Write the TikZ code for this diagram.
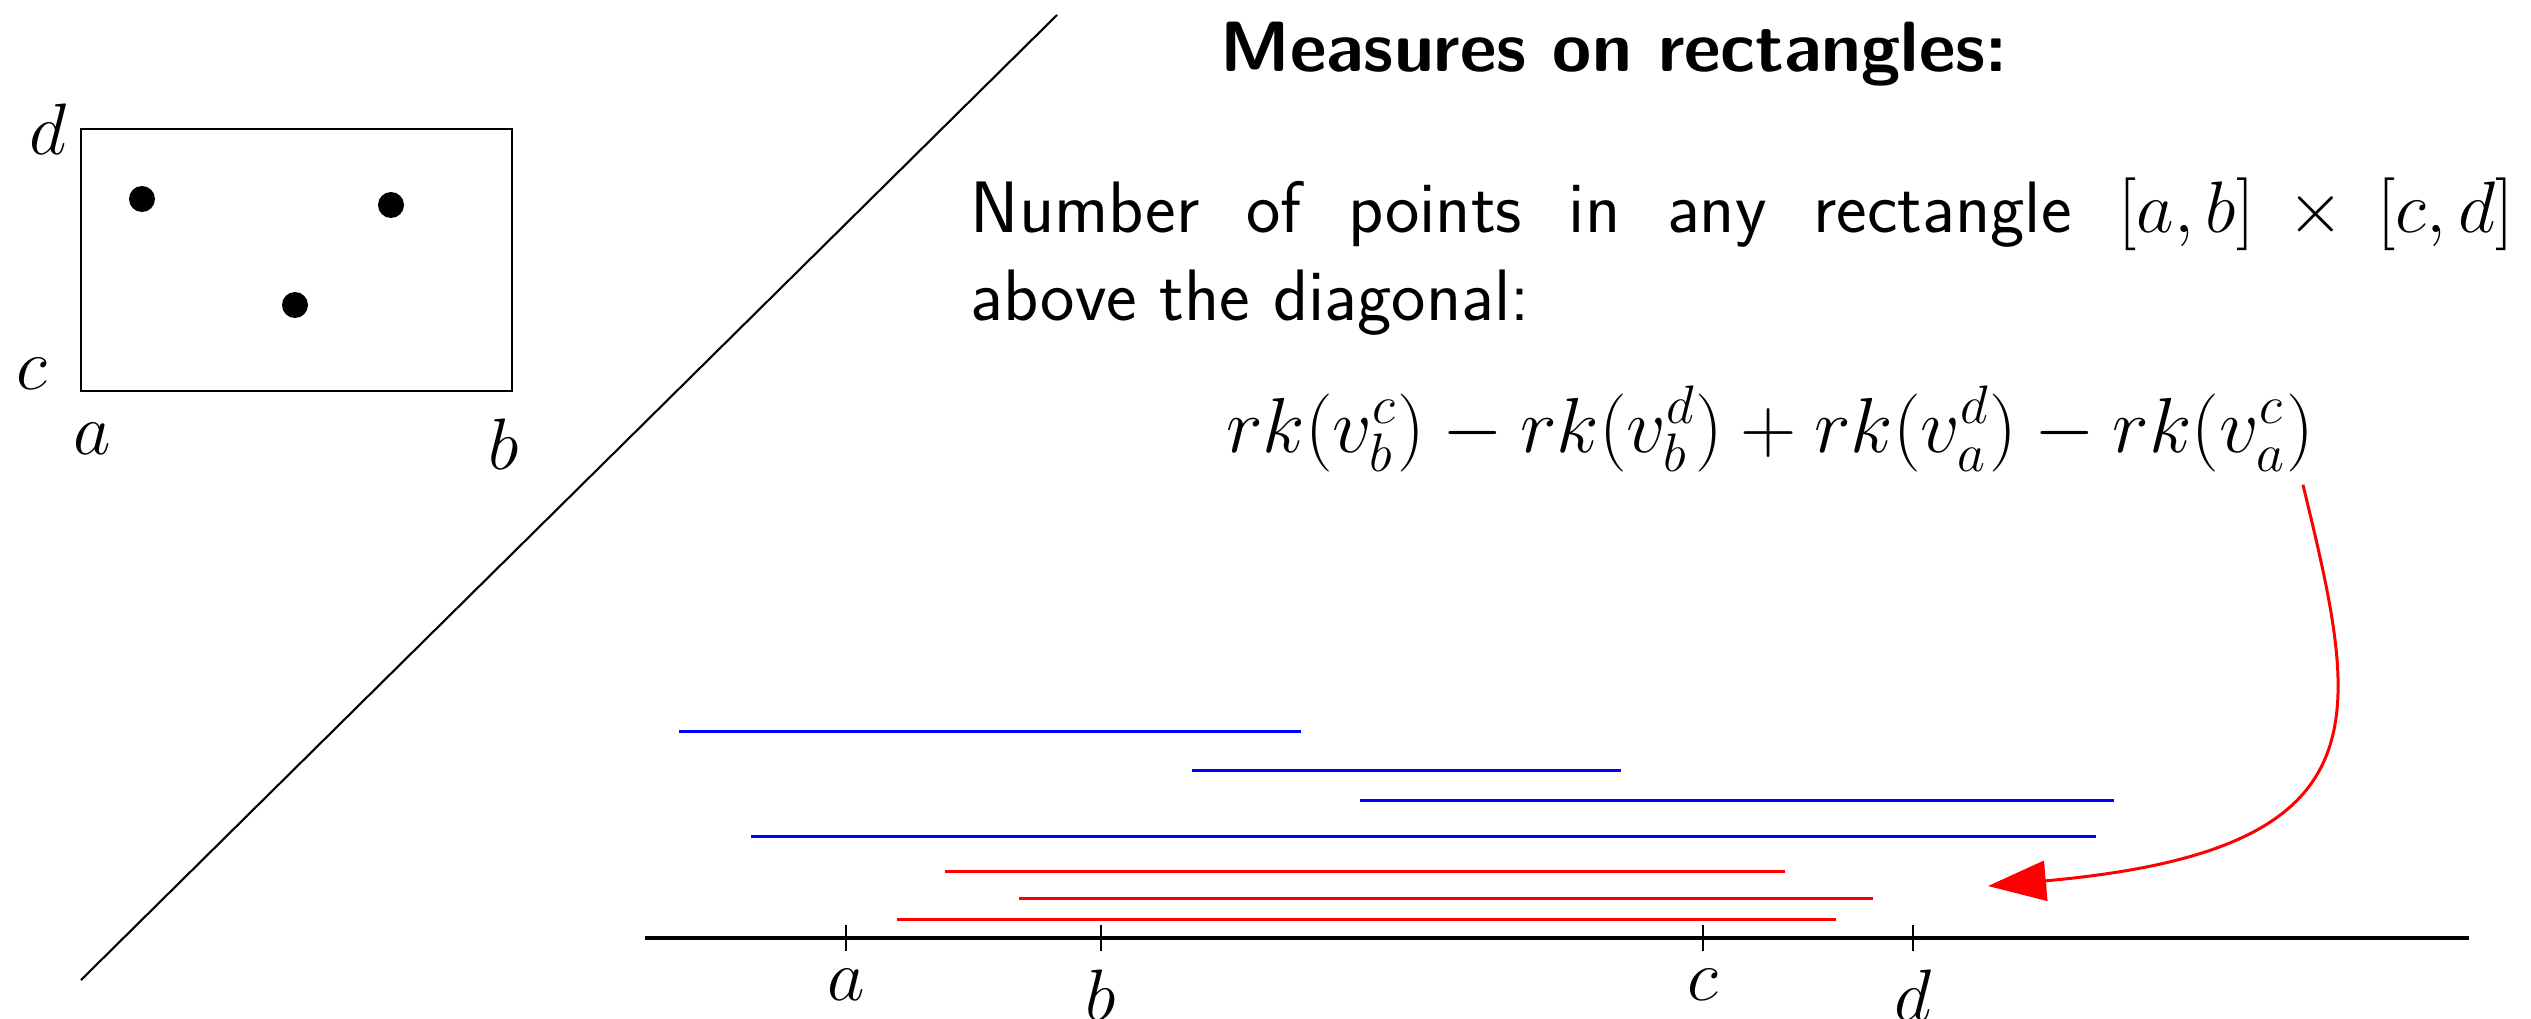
\documentclass[tikz,border=0pt]{standalone}
\usetikzlibrary{arrows.meta}
\begin{document}
\begin{tikzpicture}[font=\fontsize{20.74}{25}\selectfont,
  interval/.style={line width=0.85pt},
  tickmark/.style={line width=0.6pt}]
  \useasboundingbox (0,0) rectangle (25.31,10.18);
  % diagonal and a rectangle above it
  \draw[line width=0.6pt] (0.81,0.38) -- (10.57,10.03);
  \draw[line width=0.85pt] (0.81,6.27) rectangle (5.12,8.89);
  \foreach \x/\y in {1.42/8.19,3.91/8.13,2.95/7.13}
    \fill (\x,\y) circle (0.13);
  \node (rd) at (0.48,8.89) {$d$};
  \node (rc) at (0.32,6.44) {$c$};
  \node (ra) at (0.92,5.79) {$a$};
  \node (rb) at (5.04,5.74) {$b$};
  % text
  \node[anchor=base,font=\fontsize{20.25}{24}\selectfont\sffamily\bfseries] (title)
    at (16.14,9.46) {Measures on rectangles:};
  \node[anchor=base west,text width=15.43cm,align=justify,inner sep=0pt,
    font=\fontsize{20.74}{25}\selectfont\sffamily] (count) at (9.70,7.85)
    {Number of points in any rectangle $[a,b]\times[c,d]$\linebreak above the diagonal:};
  \node[anchor=base,scale=1.07] (formula) at (17.70,5.66)
    {$rk(v_b^c)-rk(v_b^d)+rk(v_a^d)-rk(v_a^c)$};
  % barcode over the axis
  \draw[line width=1pt] (6.45,0.80) -- (24.69,0.80);
  \foreach \x/\t in {8.46/a,11.01/b,17.03/c,19.13/d} {
    \draw[tickmark] (\x,0.67) -- (\x,0.93);
    \node[anchor=north] (tick-\t) at (\x,0.61) {$\t$};
  }
  \foreach \l/\r/\h in {6.79/13.01/2.87,11.92/16.21/2.48,13.60/21.14/2.18,7.51/20.96/1.82}
    \draw[interval,blue] (\l,\h) -- (\r,\h);
  \foreach \l/\r/\h in {9.45/17.85/1.47,10.19/18.73/1.20,8.97/18.36/0.99}
    \draw[interval,red] (\l,\h) -- (\r,\h);
  \coordinate (target) at (19.88,1.32);
  \draw[red,line width=0.85pt,-{Triangle[length=0.58cm,width=0.4cm]}]
    ([xshift=-0.24cm]formula.south east) .. controls (23.60,2.98) and (23.90,1.68) .. (target);
\end{tikzpicture}
\end{document}
